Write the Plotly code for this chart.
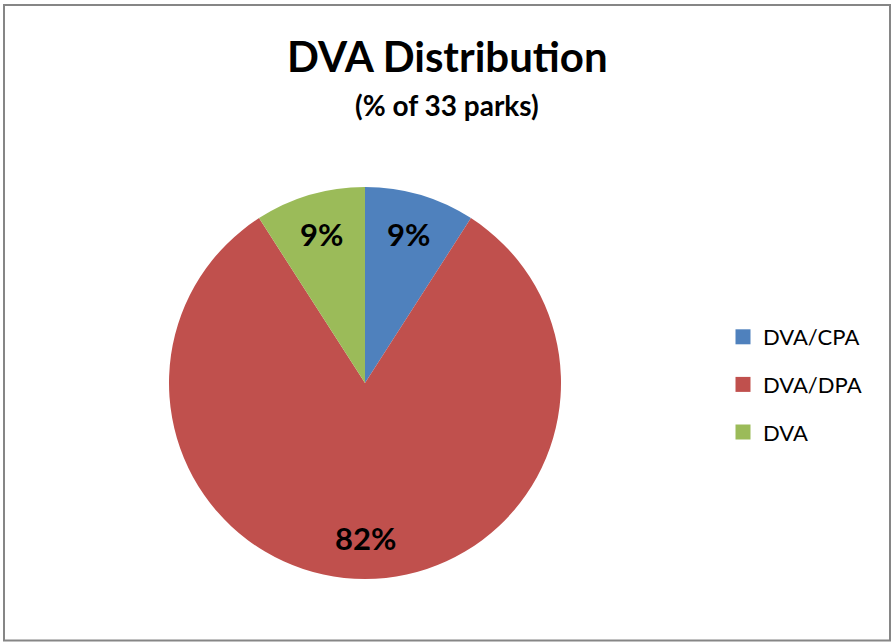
import math
import plotly.graph_objects as go

categories = ["DVA/CPA", "DVA/DPA", "DVA"]
park_counts = [3, 27, 3]
colors = ["#4F81BD", "#C0504D", "#9BBB59"]
title_text = "DVA Distribution"
subtitle_text = "(% of 33 parks)"

W, H = 893, 642
FONT = "Lato"

fig = go.Figure()

# pie
cx, cy, r = 365, 383, 196
fig.add_trace(go.Pie(
    labels=categories,
    values=park_counts,
    sort=False,
    direction="clockwise",
    rotation=0,
    marker=dict(colors=colors, line=dict(width=0)),
    textinfo="none",
    showlegend=False,
    hoverinfo="label+percent",
    domain=dict(x=[(cx - r) / W, (cx + r) / W], y=[1 - (cy + r) / H, 1 - (cy - r) / H]),
))

# data labels placed along each slice bisector (derived from the values)
total = sum(park_counts)
label_annots = []
cum = 0
for v in park_counts:
    mid = (cum + v / 2) / total * 2 * math.pi
    cum += v
    rr = 0.79 * r
    px = cx + rr * math.sin(mid)
    py = cy - rr * math.cos(mid)
    label_annots.append(dict(
        text="<b>%d%%</b>" % round(100 * v / total),
        x=px / W, y=1 - py / H, xref="paper", yref="paper", showarrow=False,
        xanchor="center", yanchor="middle",
        font=dict(family=FONT, size=31, color="black"),
    ))

# legend entries (one group per category for spacing)
for name, col in zip(categories, colors):
    fig.add_trace(go.Scatter(
        x=[None], y=[None], mode="markers", name=name, legendgroup=name,
        marker=dict(symbol="square", size=15, color=col),
        showlegend=True, hoverinfo="skip",
    ))

fig.update_layout(
    width=W, height=H,
    margin=dict(l=0, r=0, t=0, b=0),
    paper_bgcolor="white", plot_bgcolor="white",
    xaxis=dict(visible=False), yaxis=dict(visible=False),
    font=dict(family=FONT, color="black"),
    legend=dict(
        x=723 / W, y=1 - 316 / H, xanchor="left", yanchor="top",
        font=dict(family=FONT, size=22, color="black"),
        tracegroupgap=16, itemclick=False, itemdoubleclick=False,
        bgcolor="rgba(0,0,0,0)",
    ),
    annotations=[
        dict(text="<b>" + title_text + "</b>", x=447 / W, y=1 - 56 / H, xref="paper", yref="paper",
             showarrow=False, font=dict(family=FONT, size=42, color="black"), xanchor="center", yanchor="middle"),
        dict(text="<b>" + subtitle_text + "</b>", x=447 / W, y=1 - 105 / H, xref="paper", yref="paper",
             showarrow=False, font=dict(family=FONT, size=28, color="black"), xanchor="center", yanchor="middle"),
    ] + label_annots,
    shapes=[dict(type="rect", xref="paper", yref="paper",
                 x0=4 / W, x1=890 / W, y0=1 - 640.5 / H, y1=1 - 5 / H,
                 line=dict(color="#868686", width=2), fillcolor="rgba(0,0,0,0)")],
)

fig.write_html("out.html")
